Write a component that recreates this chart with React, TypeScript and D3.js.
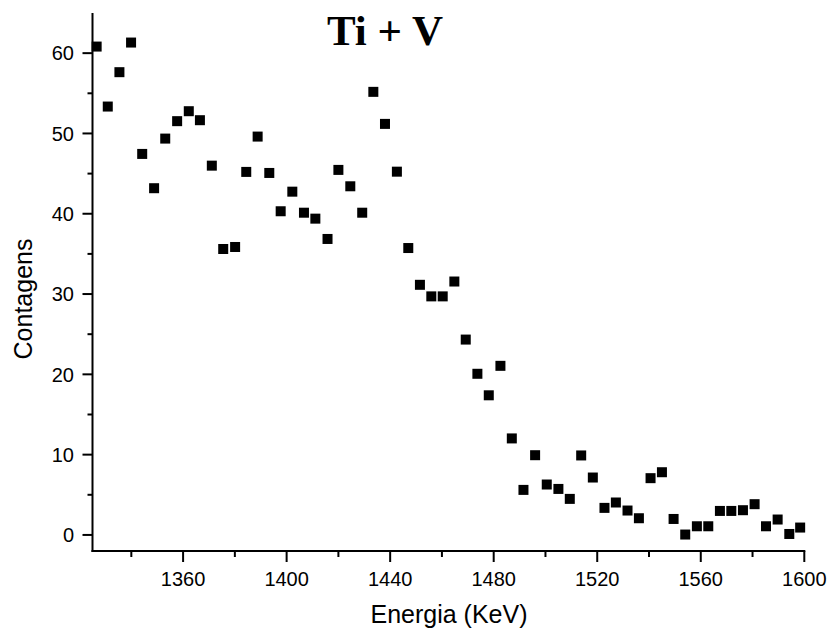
import React from "react";
import * as d3 from "d3";

const energies = [
  1326.6, 1330.9, 1335.4, 1339.9, 1344.2, 1348.8, 1353.1, 1357.7, 1362.2, 1366.5,
  1371.1, 1375.5, 1380.1, 1384.4, 1388.8, 1393.3, 1397.7, 1402.2, 1406.7, 1411.1,
  1415.8, 1420.0, 1424.6, 1429.2, 1433.5, 1438.0, 1442.6, 1447.0, 1451.5, 1455.9,
  1460.3, 1464.8, 1469.2, 1473.7, 1478.1, 1482.6, 1487.0, 1491.5, 1496.0, 1500.5,
  1505.0, 1509.4, 1513.8, 1518.3, 1522.8, 1527.2, 1531.7, 1536.1, 1540.6, 1545.0,
  1549.5, 1554.0, 1558.5, 1562.9, 1567.4, 1571.8, 1576.3, 1580.8, 1585.2, 1589.7,
  1594.2, 1598.4,
];

const counts = [
  60.82, 53.35, 57.63, 61.32, 47.45, 43.18, 49.36, 51.53, 52.77, 51.65,
  45.99, 35.61, 35.86, 45.21, 49.61, 45.08, 40.31, 42.75, 40.13, 39.39,
  36.86, 45.46, 43.42, 40.13, 55.18, 51.19, 45.24, 35.73, 31.15, 29.71,
  29.71, 31.56, 24.33, 20.07, 17.39, 21.06, 12.02, 5.61, 9.93, 6.28,
  5.73, 4.49, 9.9, 7.15, 3.37, 4.04, 3.04, 2.08, 7.07, 7.81,
  1.99, 0.05, 1.08, 1.08, 2.99, 2.99, 3.08, 3.83, 1.08, 1.92,
  0.12, 0.92,
];

const xMajorTicks = [1360, 1400, 1440, 1480, 1520, 1560, 1600];
const xMinorTicks = [1340, 1380, 1420, 1460, 1500, 1540, 1580];
const yMajorTicks = [0, 10, 20, 30, 40, 50, 60];
const yMinorTicks = [5, 15, 25, 35, 45, 55];

const title = "Ti + V";
const xLabel = "Energia (KeV)";
const yLabel = "Contagens";

export default function App() {
  const W = 830, H = 632;
  const left = 92.5, right = 804.3, top = 13, bottom = 551;
  const x = d3.scaleLinear().domain([1325, 1600]).range([left, right]);
  const y = d3.scaleLinear().domain([-2, 65]).range([bottom, top]);
  const ms = 10;
  const font = "Arial, 'Liberation Sans', sans-serif";

  return (
    <svg width={W} height={H} style={{ position: "absolute", left: 0, top: 0, background: "#fff" }}>
      <rect x={0} y={0} width={W} height={H} fill="#fff" />
      {/* axes */}
      <line x1={left} x2={left} y1={top} y2={bottom + 1} stroke="#000" strokeWidth={2} />
      <line x1={left - 1} x2={right + 1} y1={bottom} y2={bottom} stroke="#000" strokeWidth={2} />
      {yMajorTicks.map((t) => (
        <g key={"ym" + t}>
          <line x1={left - 10} x2={left} y1={y(t)} y2={y(t)} stroke="#000" strokeWidth={2} />
          <text x={74} y={y(t)} dy="0.36em" textAnchor="end" fontFamily={font} fontSize={20} fill="#000">
            {t}
          </text>
        </g>
      ))}
      {yMinorTicks.map((t) => (
        <line key={"yn" + t} x1={left - 5} x2={left} y1={y(t)} y2={y(t)} stroke="#000" strokeWidth={2} />
      ))}
      {xMajorTicks.map((t) => (
        <g key={"xm" + t}>
          <line x1={x(t)} x2={x(t)} y1={bottom} y2={bottom + 11} stroke="#000" strokeWidth={2} />
          <text x={x(t)} y={586} textAnchor="middle" fontFamily={font} fontSize={20} fill="#000">
            {t}
          </text>
        </g>
      ))}
      {xMinorTicks.map((t) => (
        <line key={"xn" + t} x1={x(t)} x2={x(t)} y1={bottom} y2={bottom + 6} stroke="#000" strokeWidth={2} />
      ))}
      {/* points */}
      {energies.map((e, i) => (
        <rect key={i} x={x(e) - ms / 2} y={y(counts[i]) - ms / 2} width={ms} height={ms} fill="#000" />
      ))}
      {/* labels */}
      <text x={385} y={45} textAnchor="middle" fontFamily="'Liberation Serif', 'Times New Roman', serif" fontWeight="bold" fontSize={43} fill="#000">
        {title}
      </text>
      <text x={449} y={623} textAnchor="middle" fontFamily={font} fontSize={25} fill="#000">
        {xLabel}
      </text>
      <text transform={`translate(32,299) rotate(-90)`} textAnchor="middle" fontFamily={font} fontSize={25} fill="#000">
        {yLabel}
      </text>
    </svg>
  );
}
